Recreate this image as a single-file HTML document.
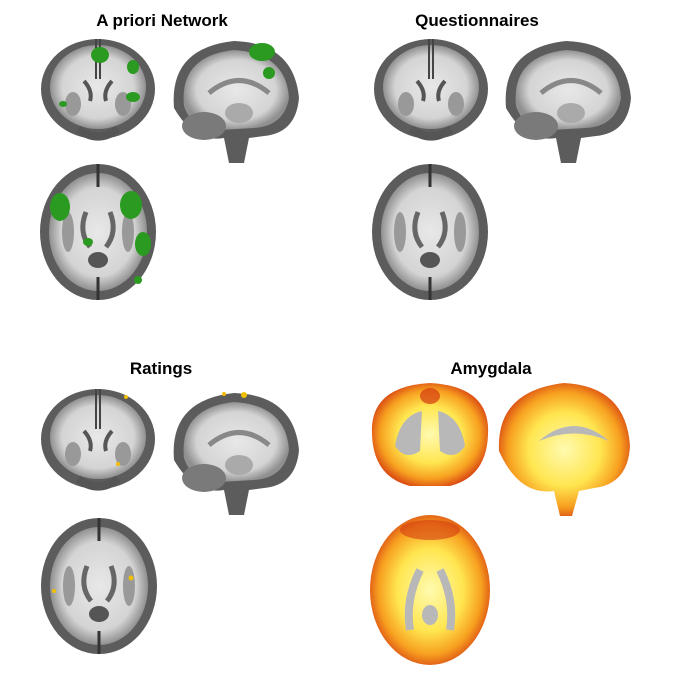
<!DOCTYPE html>
<html><head><meta charset="utf-8"><style>
body{margin:0;background:#fff;}
svg{display:block;font-family:"Liberation Sans",sans-serif;}
.t{font-weight:bold;font-size:17px;text-anchor:middle;fill:#000;}
</style></head><body>
<svg width="680" height="680" viewBox="0 0 680 680">
<defs>
<radialGradient id="wm" cx="50%" cy="50%" r="50%">
<stop offset="0%" stop-color="#e8e8e8"/><stop offset="75%" stop-color="#d4d4d4"/><stop offset="100%" stop-color="#909090"/>
</radialGradient>
<radialGradient id="heat" cx="50%" cy="50%" r="55%">
<stop offset="0%" stop-color="#fffab0"/><stop offset="50%" stop-color="#ffe650"/><stop offset="78%" stop-color="#f7a020"/><stop offset="100%" stop-color="#d43a10"/>
</radialGradient>
<g id="cor">
<ellipse cx="0" cy="0" rx="57" ry="50" fill="#5c5c5c"/>
<ellipse cx="0" cy="-2" rx="48" ry="42" fill="url(#wm)"/>
<path d="M-2,-50 L-2,-10 M2,-50 L2,-10" stroke="#444" stroke-width="2"/>
<path d="M-14,-8 Q-5,2 -8,12 M14,-8 Q5,2 8,12" stroke="#555" stroke-width="4" fill="none"/>
<ellipse cx="-25" cy="15" rx="8" ry="12" fill="#999"/><ellipse cx="25" cy="15" rx="8" ry="12" fill="#999"/>
<path d="M-20,40 Q0,55 20,40" stroke="#555" stroke-width="8" fill="none"/>
</g>
<g id="sag">
<path d="M-60,10 Q-65,-50 0,-57 Q60,-55 65,0 Q62,35 30,38 L15,40 L10,65 L-5,65 L-10,40 Q-40,45 -60,10 Z" fill="#5c5c5c"/>
<path d="M-50,8 Q-55,-42 0,-48 Q52,-45 55,0 Q50,28 20,30 L-15,32 Q-42,32 -50,8Z" fill="url(#wm)"/>
<path d="M-25,-5 Q5,-30 35,-5" stroke="#888" stroke-width="5" fill="none"/>
<ellipse cx="-30" cy="28" rx="22" ry="14" fill="#7a7a7a"/>
<ellipse cx="5" cy="15" rx="14" ry="10" fill="#aaa"/>
</g>
<g id="ax">
<ellipse cx="0" cy="0" rx="58" ry="68" fill="#5c5c5c"/>
<ellipse cx="0" cy="0" rx="49" ry="59" fill="url(#wm)"/>
<path d="M0,-68 L0,-45 M0,45 L0,68" stroke="#333" stroke-width="3"/>
<path d="M-12,-20 Q-20,0 -8,15 M12,-20 Q20,0 8,15" stroke="#666" stroke-width="5" fill="none"/>
<ellipse cx="-30" cy="0" rx="6" ry="20" fill="#999"/><ellipse cx="30" cy="0" rx="6" ry="20" fill="#999"/>
<ellipse cx="0" cy="28" rx="10" ry="8" fill="#555"/>
</g>
</defs>

<text class="t" x="162" y="26">A priori Network</text>
<text class="t" x="477" y="26">Questionnaires</text>
<text class="t" x="161" y="374">Ratings</text>
<text class="t" x="491" y="374">Amygdala</text>

<g transform="translate(98,89)"><use href="#cor"/>
<ellipse cx="2" cy="-34" rx="9" ry="8" fill="#2a9a20"/><ellipse cx="35" cy="-22" rx="6" ry="7" fill="#2a9a20"/><ellipse cx="35" cy="8" rx="7" ry="5" fill="#2a9a20"/><ellipse cx="-35" cy="15" rx="4" ry="3" fill="#2a9a20"/></g>
<g transform="translate(234,98)"><use href="#sag"/>
<ellipse cx="28" cy="-46" rx="13" ry="9" fill="#2a9a20"/><ellipse cx="35" cy="-25" rx="6" ry="6" fill="#2a9a20"/></g>
<g transform="translate(98,232)"><use href="#ax"/>
<ellipse cx="-38" cy="-25" rx="10" ry="14" fill="#2a9a20"/><ellipse cx="33" cy="-27" rx="11" ry="14" fill="#2a9a20"/><ellipse cx="-10" cy="10" rx="5" ry="4" fill="#2a9a20"/><ellipse cx="45" cy="12" rx="8" ry="12" fill="#2a9a20"/><ellipse cx="40" cy="48" rx="4" ry="4" fill="#2a9a20"/></g>

<g transform="translate(431,89)"><use href="#cor"/></g>
<g transform="translate(566,98)"><use href="#sag"/></g>
<g transform="translate(430,232)"><use href="#ax"/></g>

<g transform="translate(98,439)"><use href="#cor"/>
<circle cx="28" cy="-42" r="2" fill="#f0c000"/><circle cx="20" cy="25" r="2" fill="#f0c000"/></g>
<g transform="translate(234,450)"><use href="#sag"/>
<circle cx="10" cy="-55" r="3" fill="#f0c000"/><circle cx="-10" cy="-56" r="2" fill="#f0c000"/></g>
<g transform="translate(99,586)"><use href="#ax"/>
<circle cx="32" cy="-8" r="2.5" fill="#f0c000"/><circle cx="-45" cy="5" r="2" fill="#f0c000"/></g>

<g transform="translate(430,436)">
<path d="M-58,-10 Q-55,-50 0,-53 Q55,-50 58,-10 Q60,40 20,50 L-20,50 Q-60,40 -58,-10Z" fill="url(#heat)"/>
<path d="M-8,-25 Q-30,-20 -35,10 Q-25,25 -10,15 Z M8,-25 Q30,-20 35,10 Q25,25 10,15 Z" fill="#b8b8b8"/>
<ellipse cx="0" cy="-40" rx="10" ry="8" fill="#d43a10" opacity="0.7"/></g>
<g transform="translate(564,446)">
<path d="M-65,5 Q-68,-55 0,-63 Q62,-60 66,0 Q64,38 30,42 L15,45 L8,70 L-4,70 L-10,45 Q-45,50 -65,5 Z" fill="url(#heat)"/>
<path d="M-25,-5 Q10,-35 45,-5 Q10,-20 -25,-5Z" fill="#b8b8b8"/></g>
<g transform="translate(430,590)">
<ellipse cx="0" cy="0" rx="60" ry="75" fill="url(#heat)"/>
<path d="M-10,-20 Q-25,10 -20,40 M10,-20 Q25,10 20,40" stroke="#b8b8b8" stroke-width="8" fill="none"/>
<ellipse cx="0" cy="25" rx="8" ry="10" fill="#b8b8b8"/>
<ellipse cx="0" cy="-60" rx="30" ry="10" fill="#d43a10" opacity="0.6"/></g>
</svg>
</body></html>
